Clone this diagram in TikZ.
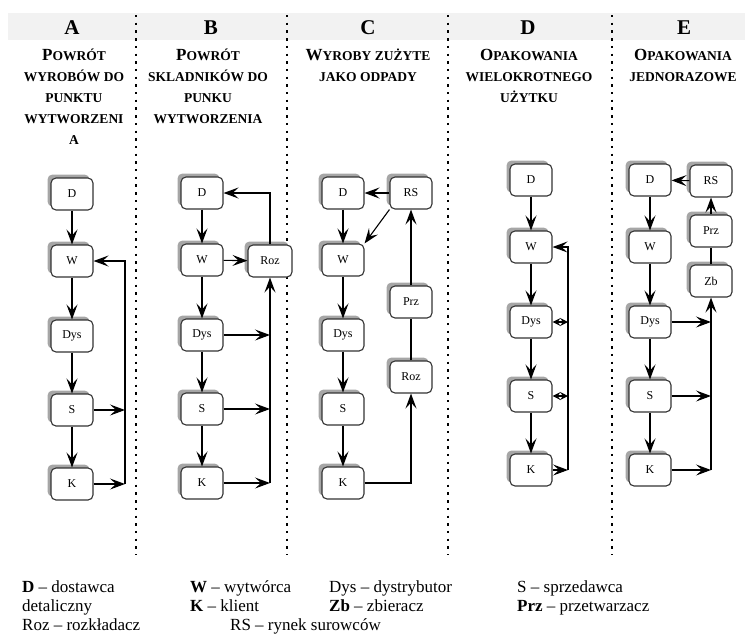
\documentclass[tikz,border=0pt]{standalone}
\usepackage{fontspec}
\setmainfont{Liberation Serif}
\usetikzlibrary{arrows.meta,shadows}

\newcommand{\capI}[1]{{\fontsize{17}{21}\selectfont #1}}

\tikzset{
  box/.style={draw=black!80, line width=1.1pt, fill=white, rounded corners=5pt,
    minimum width=42pt, minimum height=32pt, inner sep=1pt,
    font=\fontsize{12}{12}\selectfont,
    drop shadow={shadow xshift=-3.5pt, shadow yshift=3.5pt, fill=black!35, opacity=1}},
  arr/.style={-{Stealth[length=15pt,width=11pt,inset=6pt]}, line width=1.1pt},
  both/.style={{Stealth[length=8pt,width=8pt,inset=3pt]}-{Stealth[length=8pt,width=8pt,inset=3pt]}, line width=1.1pt},
  divider/.style={line width=2.4pt, dash pattern=on 2.4pt off 5.3pt},
  head/.style={inner sep=0pt, font=\bfseries\fontsize{21}{21}\selectfont},
  title/.style={anchor=north, align=center, inner sep=0pt, font=\bfseries\fontsize{13.5}{21}\selectfont},
  legend/.style={anchor=base west, inner sep=0pt, font=\fontsize{17}{19}\selectfont}
}

\begin{document}
\begin{tikzpicture}[x=1pt,y=-1pt]
  \useasboundingbox (0,0) rectangle (745,633);

  % header band and column dividers
  \fill[black!5] (8,13) rectangle (745,40);
  \foreach \x in {136,287,448,612}
    \draw[divider] (\x,15) -- (\x,555);

  \node[head] (hA) at (72,28) {A};
  \node[head] (hB) at (211,28) {B};
  \node[head] (hC) at (368,28) {C};
  \node[head] (hD) at (528,28) {D};
  \node[head] (hE) at (684,28) {E};

  \node[title] (tA) at (74,49) {\capI{P}OWRÓT\\WYROBÓW DO\\PUNKTU\\WYTWORZENI\\A};
  \node[title] (tB) at (208,49) {\capI{P}OWRÓT\\SKLADNIKÓW DO\\PUNKU\\WYTWORZENIA};
  \node[title] (tC) at (368,49) {\capI{W}YROBY ZUŻYTE\\JAKO ODPADY};
  \node[title] (tD) at (529,49) {\capI{O}PAKOWANIA\\WIELOKROTNEGO\\UŻYTKU};
  \node[title] (tE) at (683,49) {\capI{O}PAKOWANIA\\JEDNORAZOWE};

  % main chain of every column
  \foreach \c/\x/\y in {a/72/0,b/202/-1,c/343/-1,d/531/-14,e/650/-14}
  {
    \node[box] (D\c) at (\x,194+\y) {D};
    \node[box] (W\c) at (\x,261+\y) {W};
    \node[box] (Dys\c) at (\x,336+\y) {Dys};
    \node[box] (S\c) at (\x,410+\y) {S};
    \node[box] (K\c) at (\x,484+\y) {K};
    \draw[arr] (D\c) -- (W\c);
    \draw[arr] (W\c) -- (Dys\c);
    \draw[arr] (Dys\c) -- (S\c);
    \draw[arr] (S\c) -- (K\c);
  }

  % A
  \coordinate (ra) at (125,0);
  \draw[arr] (Sa.east) -- (Sa.east -| ra);
  \draw[arr] (Ka.east) -- (Ka.east -| ra);
  \draw[arr] (Ka.east -| ra) |- (Wa.east);

  % B
  \node[box,minimum width=44pt] (Rozb) at (270,261) {Roz};
  \draw[arr] (Wb) -- (Rozb);
  \draw[arr] (Rozb.north) |- (Db.east);
  \draw[arr] (Dysb.east) -- (Dysb.east -| Rozb.south);
  \draw[arr] (Sb.east) -- (Sb.east -| Rozb.south);
  \draw[arr] (Kb.east) -- (Kb.east -| Rozb.south);
  \draw[arr] (Kb.east -| Rozb.south) -- (Rozb.south);

  % C
  \node[box] (RSc) at (411,193) {RS};
  \node[box] (Przc) at (411,302) {Prz};
  \node[box] (Rozc) at (411,377) {Roz};
  \draw[arr] (RSc) -- (Dc);
  \draw[arr] (RSc.south west) -- (Wc.north east);
  \draw[arr] (Przc) -- (RSc);
  \draw[line width=1.1pt] (Rozc) -- (Przc);
  \draw[arr] (Kc.east) -| (Rozc.south);

  % D
  \coordinate (rd) at (568,0);
  \draw[arr] (Kd.east) -- (Kd.east -| rd);
  \draw[arr] (Kd.east -| rd) |- (Wd.east);
  \draw[both] (Dysd.east) -- (Dysd.east -| rd);
  \draw[both] (Sd.east) -- (Sd.east -| rd);

  % E
  \node[box] (RSe) at (711,181) {RS};
  \node[box] (Prze) at (711,231) {Prz};
  \node[box] (Zbe) at (711,281) {Zb};
  \draw[arr] (RSe) -- (De);
  \draw[arr] (Prze) -- (RSe);
  \draw[line width=1.1pt] (Zbe) -- (Prze);
  \draw[arr] (Dyse.east) -- (Dyse.east -| Zbe.south);
  \draw[arr] (Se.east) -- (Se.east -| Zbe.south);
  \draw[arr] (Ke.east) -- (Ke.east -| Zbe.south);
  \draw[arr] (Ke.east -| Zbe.south) -- (Zbe.south);

  % legend
  \node[legend] (lgD) at (22,592) {\textbf{D} – dostawca};
  \node[legend] (lgDet) at (22,611) {detaliczny};
  \node[legend] (lgRoz) at (22,630) {Roz – rozkładacz};
  \node[legend] (lgW) at (190,592) {\textbf{W} – wytwórca};
  \node[legend] (lgK) at (190,611) {\textbf{K} – klient};
  \node[legend] (lgRS) at (230,630) {RS – rynek surowców};
  \node[legend] (lgDys) at (329,592) {Dys – dystrybutor};
  \node[legend] (lgZb) at (329,611) {\textbf{Zb} – zbieracz};
  \node[legend] (lgS) at (517,592) {S – sprzedawca};
  \node[legend] (lgPrz) at (517,611) {\textbf{Prz} – przetwarzacz};
\end{tikzpicture}
\end{document}
